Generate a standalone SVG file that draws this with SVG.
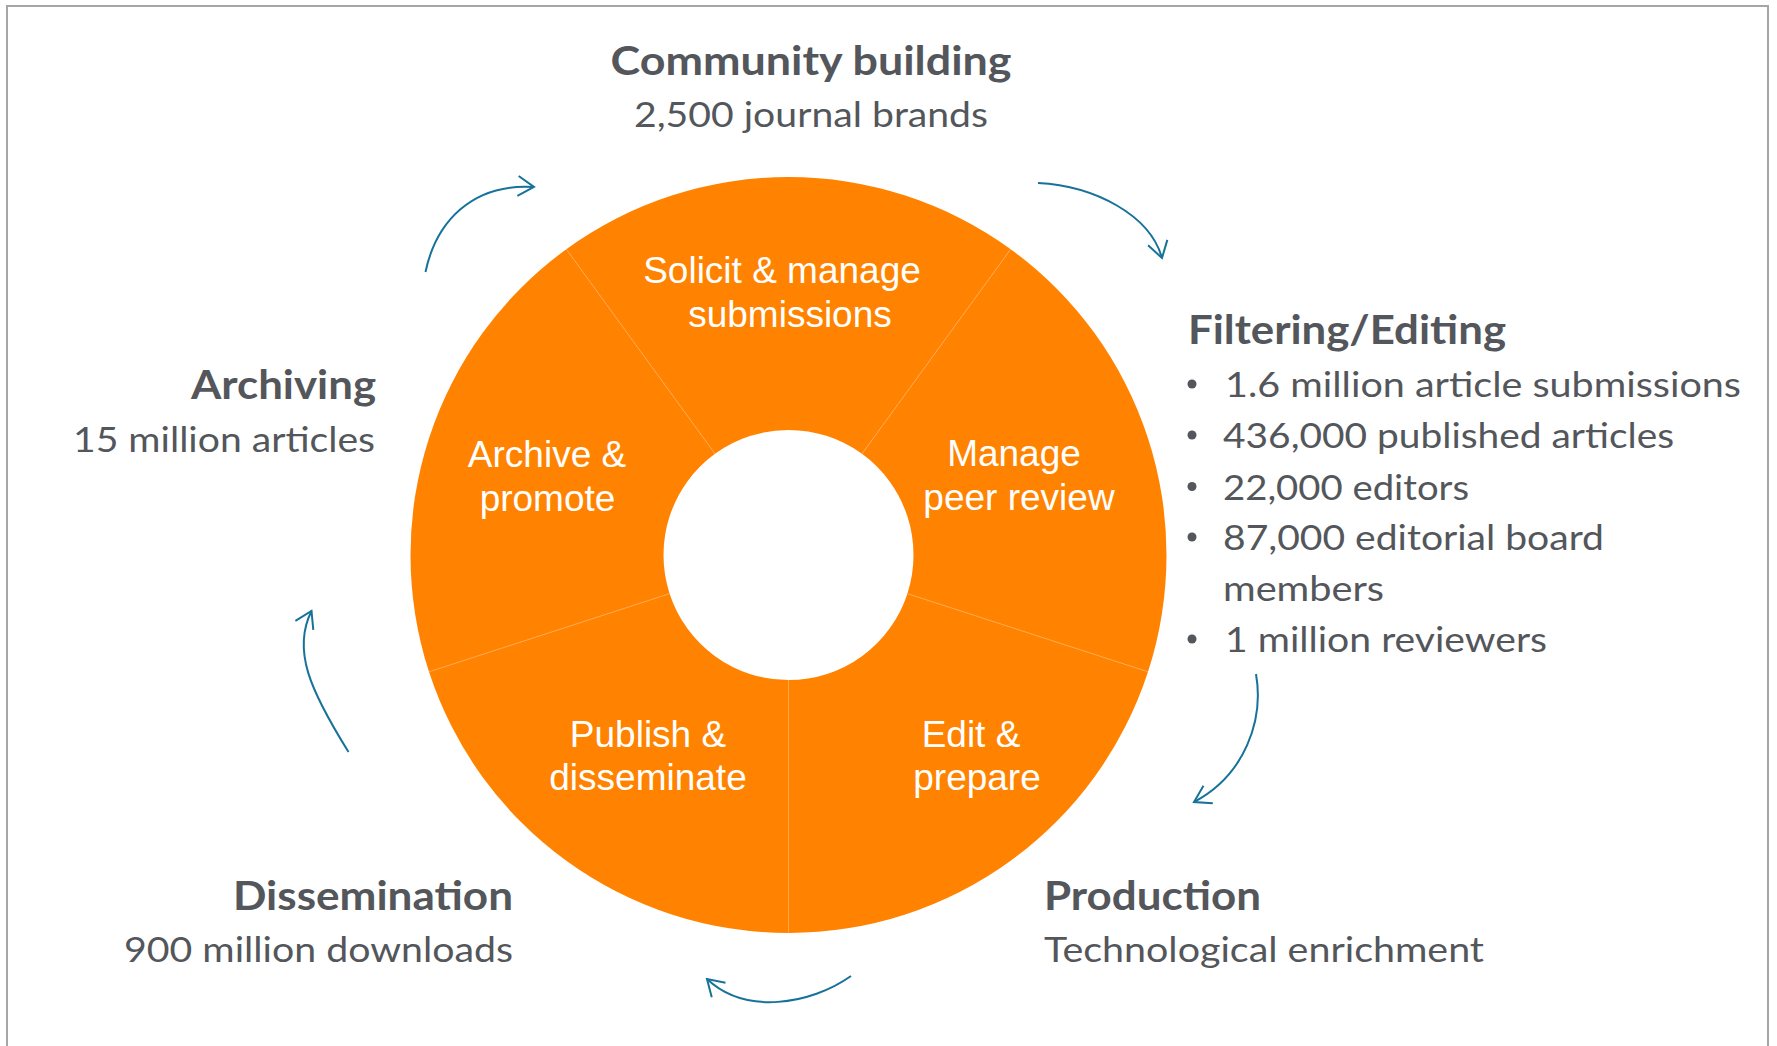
<svg xmlns="http://www.w3.org/2000/svg" width="1777" height="1046" viewBox="0 0 1777 1046">
  <style>
    .seg { fill: #FF8300; }
    .div { stroke: #FFA64F; stroke-width: 1; fill: none; }
    .seglabel { fill: #FFFFFF; font-family: "Liberation Sans", Arial, sans-serif; font-size: 37px; text-anchor: middle; }
    .head { fill: #53565A; font-family: Lato, "Open Sans", sans-serif; font-weight: bold; font-size: 41px; }
    .body { fill: #53565A; font-family: Lato, "Open Sans", sans-serif; font-size: 35px; }
    .end { text-anchor: end; }
    .mid { text-anchor: middle; }
    .conn { fill: none; stroke: #17729A; stroke-width: 2; marker-end: url(#arrow); }
    .bullet { fill: #53565A; }
  </style>
  <defs>
    <marker id="arrow" markerUnits="userSpaceOnUse" markerWidth="40" markerHeight="40" viewBox="-20 -20 40 40" refX="0" refY="0" orient="auto">
      <path d="M-16,-10 L0,0 L-16,10" fill="none" stroke="#17729A" stroke-width="2"/>
    </marker>
  </defs>

  <rect x="7" y="6" width="1761" height="1100" fill="#FFFFFF" stroke="#A6A6A6" stroke-width="2"/>

  <g id="ring">
    <g id="seg-solicit">
      <path class="seg" d="M566.32,249.19 A378,378 0 0 1 1010.68,249.19 L861.97,453.87 A125,125 0 0 0 715.03,453.87 Z"/>
      <text class="seglabel" x="782" y="283">Solicit &amp; manage</text>
      <text class="seglabel" x="790" y="327">submissions</text>
    </g>
    <g id="seg-manage">
      <path class="seg" d="M1010.68,249.19 A378,378 0 0 1 1148,671.81 L907.38,593.63 A125,125 0 0 0 861.97,453.87 Z"/>
      <text class="seglabel" x="1014" y="466">Manage</text>
      <text class="seglabel" x="1019" y="510">peer review</text>
    </g>
    <g id="seg-edit">
      <path class="seg" d="M1148,671.81 A378,378 0 0 1 788.5,933 L788.5,680 A125,125 0 0 0 907.38,593.63 Z"/>
      <text class="seglabel" x="971" y="747">Edit &amp;</text>
      <text class="seglabel" x="977" y="790">prepare</text>
    </g>
    <g id="seg-publish">
      <path class="seg" d="M788.5,933 A378,378 0 0 1 429,671.81 L669.62,593.63 A125,125 0 0 0 788.5,680 Z"/>
      <text class="seglabel" x="648" y="747">Publish &amp;</text>
      <text class="seglabel" x="648" y="790">disseminate</text>
    </g>
    <g id="seg-archive">
      <path class="seg" d="M429,671.81 A378,378 0 0 1 566.32,249.19 L715.03,453.87 A125,125 0 0 0 669.62,593.63 Z"/>
      <text class="seglabel" x="547" y="467">Archive &amp;</text>
      <text class="seglabel" x="547.5" y="511">promote</text>
    </g>
    <g id="dividers">
      <line class="div" x1="566.32" y1="249.19" x2="715.03" y2="453.87"/>
      <line class="div" x1="1010.68" y1="249.19" x2="861.97" y2="453.87"/>
      <line class="div" x1="1148" y1="671.81" x2="907.38" y2="593.63"/>
      <line class="div" x1="788.5" y1="933" x2="788.5" y2="680"/>
      <line class="div" x1="429" y1="671.81" x2="669.62" y2="593.63"/>
    </g>
  </g>

  <g id="community">
    <text class="head mid" x="811" y="75" textLength="401" lengthAdjust="spacingAndGlyphs">Community building</text>
    <text class="body mid" x="811" y="127" textLength="354" lengthAdjust="spacingAndGlyphs">2,500 journal brands</text>
  </g>

  <g id="filtering">
    <text class="head" x="1188" y="344" textLength="318" lengthAdjust="spacingAndGlyphs">Filtering/Editing</text>
    <circle class="bullet" cx="1192" cy="384" r="4.5"/>
    <text class="body" x="1225" y="397" textLength="516" lengthAdjust="spacingAndGlyphs">1.6 million article submissions</text>
    <circle class="bullet" cx="1192" cy="435" r="4.5"/>
    <text class="body" x="1223" y="448" textLength="451" lengthAdjust="spacingAndGlyphs">436,000 published articles</text>
    <circle class="bullet" cx="1192" cy="486.5" r="4.5"/>
    <text class="body" x="1223" y="499.5" textLength="246" lengthAdjust="spacingAndGlyphs">22,000 editors</text>
    <circle class="bullet" cx="1192" cy="537" r="4.5"/>
    <text class="body" x="1223" y="550" textLength="381" lengthAdjust="spacingAndGlyphs">87,000 editorial board</text>
    <text class="body" x="1223" y="601" textLength="161" lengthAdjust="spacingAndGlyphs">members</text>
    <circle class="bullet" cx="1192" cy="639" r="4.5"/>
    <text class="body" x="1225" y="652" textLength="322" lengthAdjust="spacingAndGlyphs">1 million reviewers</text>
  </g>

  <g id="production">
    <text class="head" x="1044" y="910" textLength="217" lengthAdjust="spacingAndGlyphs">Production</text>
    <text class="body" x="1044" y="962" textLength="440" lengthAdjust="spacingAndGlyphs">Technological enrichment</text>
  </g>

  <g id="dissemination">
    <text class="head end" x="513" y="910" textLength="280" lengthAdjust="spacingAndGlyphs">Dissemination</text>
    <text class="body end" x="513" y="962" textLength="389" lengthAdjust="spacingAndGlyphs">900 million downloads</text>
  </g>

  <g id="archiving">
    <text class="head end" x="376" y="399" textLength="185" lengthAdjust="spacingAndGlyphs">Archiving</text>
    <text class="body end" x="375" y="452" textLength="302" lengthAdjust="spacingAndGlyphs">15 million articles</text>
  </g>

  <g id="connectors">
    <path class="conn" d="M425.5,272 C436,222 472,183 534,187"/>
    <path class="conn" d="M1038,183 C1095,186 1150,215 1162,258"/>
    <path class="conn" d="M1256,674 C1264,720 1245,775 1194,802"/>
    <path class="conn" d="M851,976 C810,1005 745,1015 707,979"/>
    <path class="conn" d="M348.5,752 C310,690 292,650 311.5,611"/>
  </g>
</svg>
